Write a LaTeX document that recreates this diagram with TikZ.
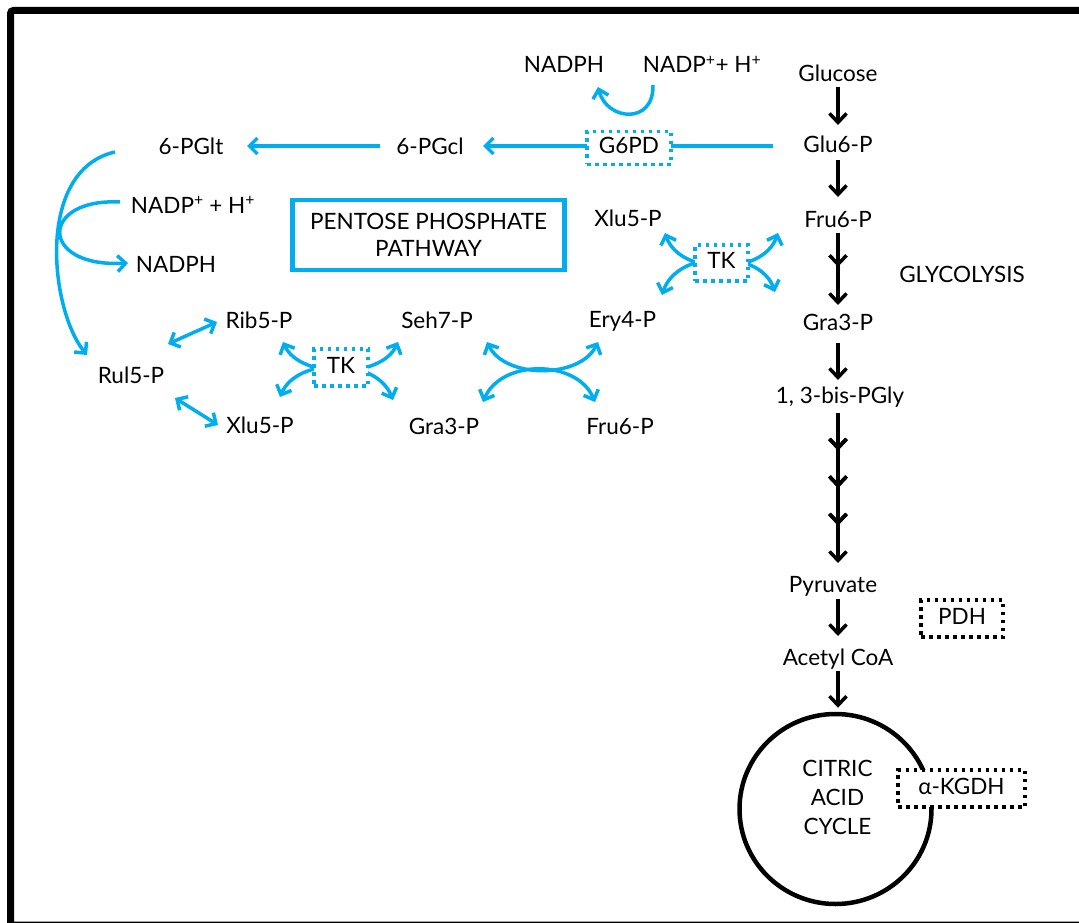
\documentclass[tikz,border=0pt]{standalone}
\usepackage{fontspec}
\setmainfont{Lato}
\usetikzlibrary{arrows.meta,decorations.markings,shapes.geometric}
\definecolor{pppblue}{RGB}{0,174,239}

\begin{document}
\begin{tikzpicture}[x=1pt,y=1pt,
  lbl/.style={font=\fontsize{22.5}{27}\selectfont, text height=16pt, text depth=5pt, inner sep=0pt, anchor=base},
  flow/.style={draw=black, line width=3.5pt, -{Straight Barb[length=9pt,width=17pt]}},
  midhead/.style={postaction={decorate}, decoration={markings,
     mark=at position #1 with {\arrow{Straight Barb[length=9pt,width=17pt]}}}},
  bflow/.style={draw=pppblue, line width=3.5pt, -{Straight Barb[length=8pt,width=16pt]}},
  bboth/.style={draw=pppblue, line width=3.5pt, {Straight Barb[length=8pt,width=16pt]}-{Straight Barb[length=8pt,width=16pt]}},
  dotbox/.style={font=\fontsize{22.5}{27}\selectfont, text height=16pt, text depth=5pt, inner sep=0pt,
     line width=3.5pt, dash pattern=on 3.5pt off 4.5pt, fill=white, anchor=center},
]
\useasboundingbox (0,0) rectangle (1079,-923);
\begin{scope}
  \clip (0,0) rectangle (1079,-923);
  \draw[line width=7pt, rounded corners=3pt] (10.5,-10.5) rectangle (1090,-925);
\end{scope}

% ---------- glycolysis column ----------
\node[lbl] (glc)  at (838,-82)  {Glucose};
\node[lbl] (g6p)  at (838,-153) {Glu6-P};
\node[lbl] (f6p)  at (838,-227) {Fru6-P};
\node[lbl] (ga3p) at (838,-330) {Gra3-P};
\node[lbl] (bpg)  at (840,-403) {1, 3-bis-PGly};
\node[lbl] (pyr)  at (833,-592) {Pyruvate};
\node[lbl] (acoa) at (838,-665) {Acetyl CoA};
\node[lbl] (glyc) at (962,-282) {GLYCOLYSIS};

\node[draw, ellipse, line width=4.5pt, minimum width=192pt, minimum height=190pt, inner sep=0pt]
  (tca) at (835.5,-809) {};
\node[font=\fontsize{22.5}{29}\selectfont, align=center, inner sep=0pt] (cac) at (837.5,-797)
  {CITRIC\\ACID\\CYCLE};

\node[dotbox, draw=black, minimum width=82pt, minimum height=37pt] (pdh) at (962,-618.5) {PDH};
\node[dotbox, draw=black, minimum width=127pt, minimum height=37pt] (kgdh) at (961.5,-788.5) {α-KGDH};

\draw[flow] ([shift={(0,-5)}]glc.base) -- ([shift={(0,28)}]g6p.base);
\draw[flow] ([shift={(0,-7)}]g6p.base) -- ([shift={(0,30)}]f6p.base);
\draw[flow, midhead=0.47] ([shift={(0,-6)}]f6p.base) -- ([shift={(0,25)}]ga3p.base);
\draw[flow] ([shift={(0,-13)}]ga3p.base) -- ([shift={(0,23)}]bpg.base -| ga3p.base);
\draw[flow, midhead=0.25, midhead=0.5, midhead=0.75] ([shift={(-2,-10)}]bpg.base) -- ([shift={(5,29)}]pyr.base);
\draw[flow] ([shift={(5,-7)}]pyr.base) -- ([shift={(0,29)}]acoa.base);
\draw[flow] ([shift={(0,-6)}]acoa.base) -- ([shift={(2.5,4)}]tca.north);

% ---------- pentose phosphate pathway ----------
\node[lbl] (nadph1) at (564,-73) {NADPH};
\node[lbl] (nadp1)  at (702,-73) {NADP\textsuperscript{+}+ H\textsuperscript{+}};
\node[lbl] (pgcl)   at (430,-154) {6-PGcl};
\node[lbl] (pglt)   at (191,-154) {6-PGlt};
\node[lbl] (nadp2)  at (193,-213) {NADP\textsuperscript{+} + H\textsuperscript{+}};
\node[lbl] (nadph2) at (176,-272) {NADPH};
\node[lbl] (rul)    at (131,-383) {Rul5-P};
\node[lbl] (rib)    at (259,-328) {Rib5-P};
\node[lbl] (xlu1)   at (260,-433) {Xlu5-P};
\node[lbl] (seh)    at (437,-328) {Seh7-P};
\node[lbl] (gra)    at (444,-434) {Gra3-P};
\node[lbl] (ery)    at (622.5,-327) {Ery4-P};
\node[lbl] (fru)    at (620,-434) {Fru6-P};
\node[lbl] (xlu2)   at (628,-226) {Xlu5-P};

\node[draw=pppblue, line width=4.5pt, minimum width=272pt, minimum height=70pt, inner sep=0pt,
      font=\fontsize{22.5}{27}\selectfont, align=center] (ppp) at (428.5,-235)
  {PENTOSE PHOSPHATE\\PATHWAY};

% G6PD step: Glu6-P to 6-PGcl, the enzyme box laid over the line
\draw[bflow] ([shift={(-65,7)}]g6p.base) -- ([shift={(53,8)}]pgcl.base);
\node[dotbox, draw=pppblue, minimum width=84pt, minimum height=33pt] (g6pd) at (629,-148) {G6PD};

% NADP+ reduced at the G6PD step
\draw[bflow] ([shift={(-49,-12)}]nadp1.base) .. controls +(1,-40) and +(9,-34) ..
  ([shift={(34,-14)}]nadph1.base);

% 6-PGcl to 6-PGlt
\draw[bflow] ([shift={(-50,8)}]pgcl.base) -- ([shift={(56,8)}]pglt.base);

% 6-PGlt to Rul5-P, with the second NADPH
\draw[bflow] ([shift={(-76,2)}]pglt.base) .. controls +(-80,-18) and +(-37,45) ..
  ([shift={(-44,28)}]rul.base);
\draw[bflow] ([shift={(-73,11)}]nadp2.base) .. controls +(-81,4) and +(-89,-5) ..
  ([shift={(-48,9)}]nadph2.base);

% isomerase / epimerase
\draw[bboth] ([shift={(37,39)}]rul.base) -- ([shift={(-42,6)}]rib.base);
\draw[bboth] ([shift={(44,-15)}]rul.base) -- ([shift={(-42,8)}]xlu1.base);

% transketolase (left)
\coordinate (tkA1) at (283,-342);
\coordinate (tkA2) at (398,-342);
\coordinate (tkA3) at (280,-397);
\coordinate (tkA4) at (393,-400);
\draw[bboth] (tkA1) .. controls (300,-379) and (381,-379) .. (tkA2);
\draw[bboth] (tkA3) .. controls (297,-357) and (376,-357) .. (tkA4);
\node[dotbox, draw=pppblue, minimum width=54pt, minimum height=37pt] (tk1) at (341,-367.5) {TK};

% transaldolase exchange
\coordinate (taA1) at (487,-342);
\coordinate (taA2) at (598,-342);
\coordinate (taA3) at (483,-402);
\coordinate (taA4) at (595,-402);
\draw[bboth] (taA1) .. controls (505,-379) and (580,-379) .. (taA2);
\draw[bboth] (taA3) .. controls (501,-359) and (577,-359) .. (taA4);

% transketolase (right)
\coordinate (tkB1) at (665,-233);
\coordinate (tkB2) at (778,-233);
\coordinate (tkB3) at (662,-295);
\coordinate (tkB4) at (775,-292);
\draw[bboth] (tkB1) .. controls (680,-276) and (763,-276) .. (tkB2);
\draw[bboth] (tkB3) .. controls (677,-249) and (760,-249) .. (tkB4);
\node[dotbox, draw=pppblue, minimum width=53pt, minimum height=36pt] (tk2) at (721.5,-263) {TK};
\end{tikzpicture}
\end{document}
